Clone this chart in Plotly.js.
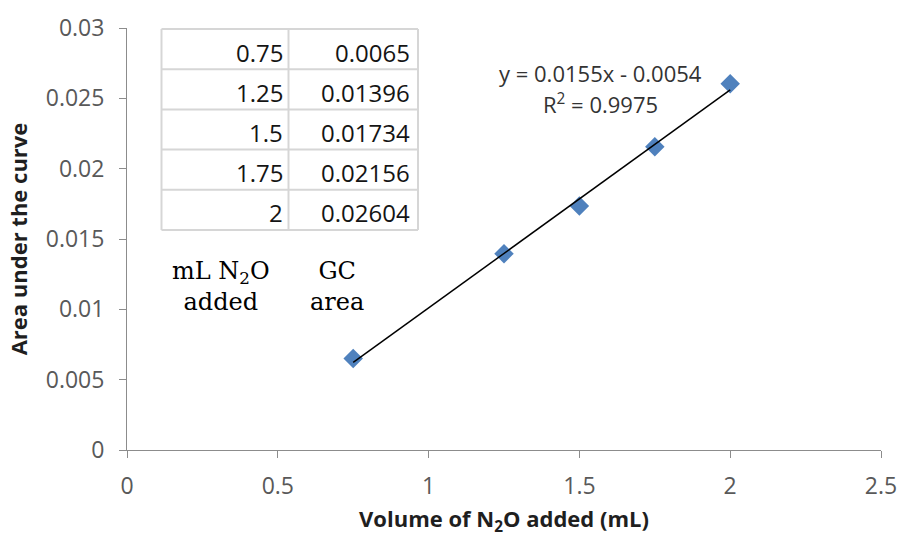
<!DOCTYPE html>
<html>
<head>
<meta charset="utf-8">
<script src="https://cdn.plot.ly/plotly-3.0.1.min.js"></script>
<style>
  html, body { margin: 0; padding: 0; background: #ffffff; }
  #chart { width: 902px; height: 538px; }
</style>
</head>
<body>
<div id="chart"></div>
<script>
// Calibration data: volume of N2O injected vs. GC peak area
const volumeAdded = [0.75, 1.25, 1.5, 1.75, 2];
const gcArea = [0.0065, 0.01396, 0.01734, 0.02156, 0.02604];

// Linear trendline coefficients as reported on the chart
const fitSlope = 0.0155;
const fitIntercept = -0.0054;
const fitR2 = 0.9975;

// Axis ticks
const xTicks = [0, 0.5, 1, 1.5, 2, 2.5];
const yTicks = [0, 0.005, 0.01, 0.015, 0.02, 0.025, 0.03];

// Inset table text built from the data
const volumeLabels = volumeAdded.map(String);
const areaLabels = gcArea.map(String);

// Plot-area geometry (px) used to place the inset table in paper units
const M = { l: 127, r: 21, t: 28, b: 88 };
const W = 902, H = 538;
const plotW = W - M.l - M.r, plotH = H - M.t - M.b;
const px2x = p => (p - M.l) / plotW;
const px2y = p => (H - M.b - p) / plotH;

const sans = 'Open Sans, Liberation Sans, sans-serif';
const tickFont = { family: sans, size: 23, color: '#595959' };
const axisLine = '#8c8c8c';

// Trendline across the measured range
const xFit = [Math.min(...volumeAdded), Math.max(...volumeAdded)];
const yFit = xFit.map(x => fitSlope * x + fitIntercept);

const traces = [
  {
    type: 'scatter', mode: 'markers',
    x: volumeAdded, y: gcArea,
    marker: { symbol: 'diamond', size: 15, color: '#4f81bd', line: { width: 0 } },
    hoverinfo: 'x+y', showlegend: false
  },
  {
    type: 'scatter', mode: 'lines',
    x: xFit, y: yFit,
    line: { color: '#000000', width: 1.5 },
    hoverinfo: 'skip', showlegend: false
  }
];

// Inset table: grid lines and right-aligned cell text
const tbl = { left: 161.5, mid: 288.5, right: 418, top: 29, rowH: 40.2 };
const nRows = volumeLabels.length;
const tblBottom = tbl.top + tbl.rowH * nRows;
const gridStyle = { color: '#d6d6d6', width: 2 };
const shapes = [];
for (let k = 0; k <= nRows; k++) {
  const yy = px2y(tbl.top + tbl.rowH * k);
  shapes.push({ type: 'line', xref: 'paper', yref: 'paper',
    x0: px2x(tbl.left), x1: px2x(tbl.right), y0: yy, y1: yy, line: gridStyle });
}
[tbl.left, tbl.mid, tbl.right].forEach(xp => {
  shapes.push({ type: 'line', xref: 'paper', yref: 'paper',
    x0: px2x(xp), x1: px2x(xp), y0: px2y(tbl.top), y1: px2y(tblBottom), line: gridStyle });
});

const cellFont = { family: sans, size: 24, color: '#141414' };
const annotations = [];
for (let i = 0; i < nRows; i++) {
  const yc = px2y(tbl.top + tbl.rowH * (i + 0.5));
  annotations.push({ xref: 'paper', yref: 'paper', x: px2x(285), y: yc,
    xanchor: 'right', yanchor: 'middle', yshift: -3, showarrow: false,
    text: volumeLabels[i], font: cellFont });
  annotations.push({ xref: 'paper', yref: 'paper', x: px2x(412), y: yc,
    xanchor: 'right', yanchor: 'middle', yshift: -3, showarrow: false,
    text: areaLabels[i], font: cellFont });
}

// Column captions under the table
const serifFont = { family: 'DejaVu Serif, Liberation Serif, serif', size: 24, color: '#000000' };
annotations.push({ xref: 'paper', yref: 'paper', x: px2x(221), y: px2y(286),
  xanchor: 'center', yanchor: 'middle', showarrow: false, align: 'center',
  text: 'mL N<sub>2</sub>O<br>added', font: serifFont });
annotations.push({ xref: 'paper', yref: 'paper', x: px2x(337), y: px2y(286),
  xanchor: 'center', yanchor: 'middle', showarrow: false, align: 'center',
  text: 'GC<br>area', font: serifFont });

// Trendline equation and R² on two lines
const eqFont = { family: sans, size: 22, color: '#333333' };
annotations.push({ xref: 'paper', yref: 'paper', x: px2x(600), y: px2y(73),
  xanchor: 'center', yanchor: 'middle', showarrow: false,
  text: 'y = ' + fitSlope + 'x - ' + Math.abs(fitIntercept), font: eqFont });
annotations.push({ xref: 'paper', yref: 'paper', x: px2x(600), y: px2y(103),
  xanchor: 'center', yanchor: 'middle', showarrow: false,
  text: 'R<sup>2</sup> = ' + fitR2, font: eqFont });

const layout = {
  width: W, height: H,
  margin: M,
  paper_bgcolor: '#ffffff', plot_bgcolor: '#ffffff',
  showlegend: false,
  xaxis: {
    range: [0, 2.5], tickvals: xTicks, ticktext: xTicks.map(String),
    showgrid: false, zeroline: false,
    showline: true, linecolor: axisLine, linewidth: 1,
    ticks: 'outside', ticklen: 7, tickcolor: axisLine, tickwidth: 1,
    ticklabelstandoff: 8,
    tickfont: tickFont,
    title: { text: '<b>Volume of N<sub>2</sub>O added (mL)</b>', standoff: 12,
      font: { family: sans, size: 22, color: '#1f1f1f' } }
  },
  yaxis: {
    range: [0, 0.03], tickvals: yTicks, ticktext: yTicks.map(String),
    showgrid: false, zeroline: false,
    showline: true, linecolor: axisLine, linewidth: 1,
    ticks: 'outside', ticklen: 7, tickcolor: axisLine, tickwidth: 1,
    ticklabelstandoff: 10,
    tickfont: tickFont,
    title: { text: '<b>Area under the curve</b>', standoff: 12,
      font: { family: sans, size: 22, color: '#1f1f1f' } }
  },
  shapes: shapes,
  annotations: annotations
};

Plotly.newPlot('chart', traces, layout, { displayModeBar: false, staticPlot: true });
</script>
</body>
</html>
